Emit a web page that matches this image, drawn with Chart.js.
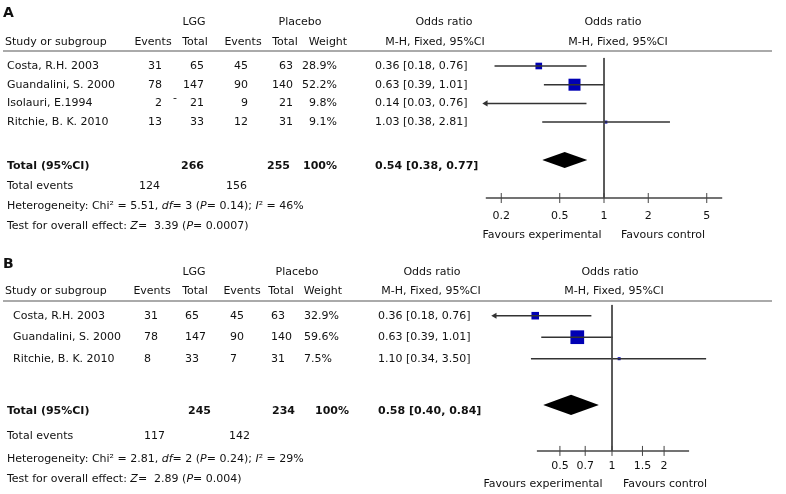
<!DOCTYPE html>
<html>
<head>
<meta charset="utf-8">
<script src="https://cdn.jsdelivr.net/npm/chart.js@4.4.1/dist/chart.umd.min.js"></script>
<style>
body { margin: 0; background: #fff; }
#page {
    position: relative; width: 786px; height: 494px; overflow: hidden;
    font-family: "DejaVu Sans", sans-serif;
    font-size: 11px; color: #111;
}
.t { position: absolute; white-space: nowrap; line-height: 14px; }
.b { font-weight: bold; }
.letter { font-weight: bold; font-size: 14px; }
.rule { position: absolute; left: 3px; width: 769px; height: 2px; background: #aaa; }
.box { position: absolute; left: 0; width: 786px; }
</style>
</head>
<body>
<div id="page">
    <div class="box" style="top:0;height:250px"><canvas id="chartA"></canvas></div>
    <div class="box" style="top:250px;height:244px"><canvas id="chartB"></canvas></div>
</div>
<script>
/* Panel A data */
const studiesA = ["Costa, R.H. 2003", "Guandalini, S. 2000", "Isolauri, E.1994", "Ritchie, B. K. 2010"];
const lggEventsA = [31, 78, 2, 13];
const lggTotalA = [65, 147, 21, 33];
const plaEventsA = [45, 90, 9, 12];
const plaTotalA = [63, 140, 21, 31];
const weightA = [28.9, 52.2, 9.8, 9.1];
const oddsA = [0.36, 0.63, 0.14, 1.03];
const lowerA = [0.18, 0.39, 0.03, 0.38];
const upperA = [0.76, 1.01, 0.76, 2.81];
const pooledA = [0.54, 0.38, 0.77];        // OR, lower, upper
const sumTotalA = [266, 255];
const sumEventsA = [124, 156];
const hetA = ["5.51", "3", "0.14", "46"];  // Chi2, df, P, I2
const effectA = ["3.39", "0.0007"];        // Z, P
const ticksA = [0.2, 0.5, 1, 2, 5];

/* Panel B data */
const studiesB = ["Costa, R.H. 2003", "Guandalini, S. 2000", "Ritchie, B. K. 2010"];
const lggEventsB = [31, 78, 8];
const lggTotalB = [65, 147, 33];
const plaEventsB = [45, 90, 7];
const plaTotalB = [63, 140, 31];
const weightB = [32.9, 59.6, 7.5];
const oddsB = [0.36, 0.63, 1.10];
const lowerB = [0.18, 0.39, 0.34];
const upperB = [0.76, 1.01, 3.50];
const pooledB = [0.58, 0.40, 0.84];
const sumTotalB = [245, 234];
const sumEventsB = [117, 142];
const hetB = ["2.81", "2", "0.24", "29"];
const effectB = ["2.89", "0.004"];
const ticksB = [0.5, 0.7, 1, 1.5, 2];

const page = document.getElementById("page");

function put(html, x, y, align, cls) {
    const d = document.createElement("div");
    d.className = "t" + (cls ? " " + cls : "");
    d.innerHTML = html;
    d.style.left = x + "px";
    d.style.top = (y - 7) + "px";
    if (align === "center") d.style.transform = "translateX(-50%)";
    if (align === "right") d.style.transform = "translateX(-100%)";
    page.appendChild(d);
}

function orText(v) {
    return v[0].toFixed(2) + " [" + v[1].toFixed(2) + ", " + v[2].toFixed(2) + "]";
}

function drawPanel(p) {
    const L = p.layout;
    const lg = v => Math.log10(v);

    // ---- table text
    put(p.letter, 3, L.top + L.letterY, "left", "letter");
    put("LGG", L.lggC, L.top + L.headY[0], "center");
    put("Placebo", L.plaC, L.top + L.headY[0], "center");
    put("Odds ratio", L.orC[0], L.top + L.headY[0], "center");
    put("Odds ratio", L.orC[1], L.top + L.headY[0], "center");
    put("Study or subgroup", 5, L.top + L.headY[1], "left");
    ["Events", "Total", "Events", "Total", "Weight"].forEach((h, k) =>
        put(h, L.headC[k], L.top + L.headY[1], "center"));
    put("M-H, Fixed, 95%CI", L.mhC[0], L.top + L.headY[1], "center");
    put("M-H, Fixed, 95%CI", L.mhC[1], L.top + L.headY[1], "center");

    const rule = document.createElement("div");
    rule.className = "rule";
    rule.style.top = (L.top + L.ruleY) + "px";
    page.appendChild(rule);

    p.studies.forEach((s, i) => {
        const y = L.top + L.row0 + i * L.rowGap;
        put(s, L.nameX, y, "left");
        const cells = [p.lggE[i], p.lggT[i], p.plaE[i], p.plaT[i], p.weight[i].toFixed(1) + "%"];
        cells.forEach((c, k) => put(String(c), L.colX[k], y, L.colAlign));
        put(orText([p.odds[i], p.lower[i], p.upper[i]]), L.orX, y, "left");
    });

    const sy = L.sumY.map(v => L.top + v);
    put("Total (95%CI)", 7, sy[0], "left", "b");
    put(String(p.sumTotal[0]), L.sumX[0], sy[0], L.sumAlign, "b");
    put(String(p.sumTotal[1]), L.sumX[1], sy[0], L.sumAlign, "b");
    put("100%", L.sumX[2], sy[0], L.sumAlign, "b");
    put(orText(p.pooled), L.orX, sy[0], "left", "b");
    put("Total events", 7, sy[1], "left");
    put(String(p.sumEvents[0]), L.evX[0], sy[1], L.sumAlign);
    put(String(p.sumEvents[1]), L.evX[1], sy[1], L.sumAlign);
    put("Heterogeneity: Chi² = " + p.het[0] + ", <i>df</i>= " + p.het[1] +
        " (<i>P</i>= " + p.het[2] + "); <i>I</i>² = " + p.het[3] + "%", 7, sy[2], "left");
    put("Test for overall effect: <i>Z</i>=&nbsp; " + p.effect[0] +
        " (<i>P</i>= " + p.effect[1] + ")", 7, sy[3], "left");
    if (L.mark) put("-", L.mark[0], L.top + L.mark[1], "left");

    // ---- forest plot
    const datasets = [];
    const ink = "#333";
    datasets.push({ data: [{ x: 1, y: L.lineTop }, { x: 1, y: L.axisRow }],
        borderColor: "#444", borderWidth: 1, pointRadius: 0 });
    datasets.push({ data: [{ x: L.axisFrom, y: L.axisRow }, { x: L.axisTo, y: L.axisRow }],
        borderColor: "#444", borderWidth: 1.5, pointRadius: 0 });
    datasets.push({ data: p.ticks.map(t => ({ x: t, y: L.axisRow })), showLine: false,
        pointStyle: "line", rotation: 90, pointRadius: 5, pointBorderWidth: 1, pointBorderColor: "#444" });

    const boxes = [], arrows = [];
    p.studies.forEach((s, i) => {
        const lo = Math.max(p.lower[i], L.min), hi = Math.min(p.upper[i], L.max);
        datasets.push({ data: [{ x: lo, y: i }, { x: hi, y: i }],
            borderColor: ink, borderWidth: 1.5, pointRadius: 0 });
        if (p.lower[i] < L.min) arrows.push({ x: L.min, y: i });
        if (p.odds[i] >= L.min && p.odds[i] <= L.max) boxes.push({ x: p.odds[i], y: i, w: p.weight[i] });
    });
    datasets.push({ data: arrows, showLine: false, pointStyle: "triangle", rotation: 270,
        pointRadius: 3.5, pointBorderWidth: 0, pointBackgroundColor: ink });
    datasets.push({ data: boxes.map(b => ({ x: b.x, y: b.y })), showLine: false, pointStyle: "rect",
        pointRadius: boxes.map(b => Math.max(3, 0.23 * b.w) / 1.414),
        pointBorderWidth: 0, pointBackgroundColor: "#0000b4" });

    // pooled diamond: upper half filled down to lower half
    const r = L.pooledRow, h = L.diamondH;
    datasets.push({ data: [{ x: p.pooled[1], y: r }, { x: p.pooled[0], y: r - h }, { x: p.pooled[2], y: r }],
        borderWidth: 0, pointRadius: 0, fill: false });
    datasets.push({ data: [{ x: p.pooled[1], y: r }, { x: p.pooled[0], y: r + h }, { x: p.pooled[2], y: r }],
        borderWidth: 0, pointRadius: 0, fill: "-1", backgroundColor: "#000" });

    datasets.forEach(d => { d.clip = false; d.tension = 0; });

    const left = L.one + lg(L.min) * L.decade;
    const right = L.one + lg(L.max) * L.decade;
    const top = L.row0 - L.rowGap;
    const bottom = L.row0 + 8 * L.rowGap;

    const chart = new Chart(document.getElementById(p.canvas), {
        type: "line",
        data: { datasets: datasets },
        options: {
            responsive: true,
            maintainAspectRatio: false,
            animation: false,
            devicePixelRatio: 1,
            layout: { padding: { left: left, right: 786 - right, top: top, bottom: L.height - bottom } },
            plugins: { legend: { display: false }, tooltip: { enabled: false } },
            scales: {
                x: { type: "logarithmic", min: L.min, max: L.max, bounds: "data", display: false },
                y: { type: "linear", min: -1, max: 8, reverse: true, display: false }
            }
        }
    });

    const xs = chart.scales.x;
    p.ticks.forEach(t => put(String(t), xs.getPixelForValue(t), L.top + L.tickY, "center"));
    put("Favours experimental", L.favC[0], L.top + L.favY, "center");
    put("Favours control", L.favC[1], L.top + L.favY, "center");
}

drawPanel({
    canvas: "chartA", letter: "A",
    studies: studiesA, lggE: lggEventsA, lggT: lggTotalA, plaE: plaEventsA, plaT: plaTotalA,
    weight: weightA, odds: oddsA, lower: lowerA, upper: upperA, pooled: pooledA,
    sumTotal: sumTotalA, sumEvents: sumEventsA, het: hetA, effect: effectA, ticks: ticksA,
    layout: {
        top: 0, height: 250, letterY: 12, headY: [22, 42], ruleY: 50,
        lggC: 194, plaC: 300, orC: [444, 613], mhC: [435, 618],
        headC: [153, 195, 243, 285, 328],
        nameX: 7, colX: [162, 204, 248, 293, 337], colAlign: "right", orX: 375,
        sumY: [166, 186, 206, 226], sumX: [204, 290, 337], evX: [160, 247], sumAlign: "right",
        mark: [173, 98],
        one: 604, decade: 147, min: 0.157, max: 6.37,
        row0: 66, rowGap: 18.7, pooledRow: 5.03, diamondH: 0.43,
        axisRow: 7.06, lineTop: -0.43, axisFrom: 0.157, axisTo: 6.37,
        tickY: 216, favY: 235, favC: [542, 663]
    }
});

drawPanel({
    canvas: "chartB", letter: "B",
    studies: studiesB, lggE: lggEventsB, lggT: lggTotalB, plaE: plaEventsB, plaT: plaTotalB,
    weight: weightB, odds: oddsB, lower: lowerB, upper: upperB, pooled: pooledB,
    sumTotal: sumTotalB, sumEvents: sumEventsB, het: hetB, effect: effectB, ticks: ticksB,
    layout: {
        top: 250, height: 244, letterY: 13, headY: [22, 41], ruleY: 50,
        lggC: 194, plaC: 297, orC: [432, 610], mhC: [431, 614],
        headC: [152, 195, 242, 281, 323],
        nameX: 13, colX: [144, 185, 230, 271, 304], colAlign: "left", orX: 378,
        sumY: [161, 186, 209, 229], sumX: [188, 272, 315], evX: [144, 229], sumAlign: "left",
        one: 612, decade: 173, min: 0.21, max: 5,
        row0: 65.7, rowGap: 21.5, pooledRow: 4.15, diamondH: 0.47,
        axisRow: 6.29, lineTop: -0.5, axisFrom: 0.368, axisTo: 2.79,
        tickY: 216, favY: 234, favC: [543, 665]
    }
});
</script>
</body>
</html>
